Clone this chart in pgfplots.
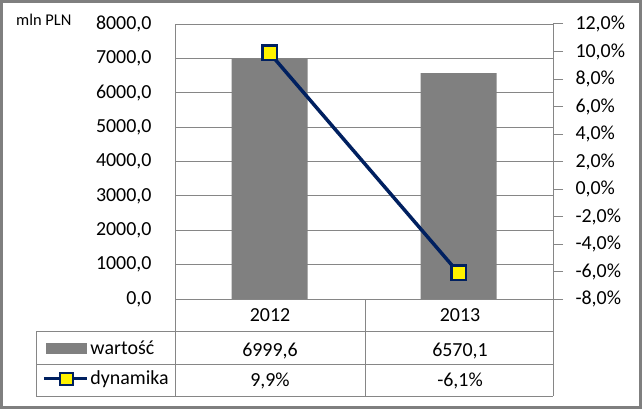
\documentclass[border=0pt]{standalone}
\usepackage{pgfplots}
\pgfplotsset{compat=1.18}
\usepackage{fontspec}
\setmainfont{Carlito}
\definecolor{bargray}{HTML}{808080}
\definecolor{linegray}{HTML}{868686}
\definecolor{navyline}{HTML}{002060}
\definecolor{framegray}{HTML}{7F7F7F}
\pgfplotsset{/pgf/number format/assume math mode=true}
\newcommand{\bigfont}{\fontsize{20}{23}\selectfont}
\begin{document}
\begin{tikzpicture}[x=1bp,y=1bp]
\useasboundingbox (0,0) rectangle (642,409);
\fill[white] (0,0) rectangle (642,409);
\begin{axis}[
  at={(175bp,110bp)}, anchor=south west, scale only axis,
  width=378bp, height=275bp,
  xmin=-0.5, xmax=1.5, ymin=0, ymax=8000,
  ytick={0,1000,...,8000}, xtick=\empty,
  axis line style={linegray, line width=1bp},
  ymajorgrids, grid style={linegray, line width=1bp},
  major tick length=0pt,
  tick label style={font=\bigfont},
  yticklabel={\pgfmathprintnumber[fixed,fixed zerofill,precision=1,use comma,1000 sep={}]{\tick}},
  yticklabel style={xshift=-20bp},
  ybar, bar width=76bp,
]
\addplot[fill=bargray, draw=none] coordinates {(0,6999.6) (1,6570.1)};
\end{axis}
\begin{axis}[
  at={(175bp,110bp)}, anchor=south west, scale only axis,
  width=378bp, height=275bp,
  xmin=-0.5, xmax=1.5, ymin=-8, ymax=12,
  ytick={-8,-6,...,12},
  axis y line*=right, axis x line=none,
  axis line style={linegray, line width=1bp},
  tick align=outside, major tick length=10bp,
  tick style={linegray, line width=1bp},
  tick label style={font=\bigfont},
  yticklabel={\pgfmathprintnumber[fixed,fixed zerofill,precision=1,use comma]{\tick}\%},
  yticklabel style={xshift=9bp},
  legend style={at={(axis description cs:-0.359,-0.2345)}, anchor=west,
    draw=none, fill=none, font=\bigfont, row sep=11bp, legend cell align=left},
]
\addlegendimage{legend image code/.code={\fill[bargray] (0bp,-5bp) rectangle (40bp,5bp);}}
\addlegendentry{wartość}
\addplot[navyline, line width=3.5bp, mark=square*, mark size=7.25bp,
  mark options={fill=yellow, draw=navyline, line width=2.5bp, solid},
  legend image code/.code={\draw[navyline, line width=3bp] (-2bp,0bp) -- (41bp,0bp);
     \draw[fill=yellow, draw=navyline, line width=2bp] (14bp,-6bp) rectangle (27bp,6bp);}]
  coordinates {(0,9.9) (1,-6.1)};
\addlegendentry{dynamika}
\end{axis}
% data table grid
\begin{scope}[linegray, line width=1bp]
\draw (175,110) -- (563,110);
\draw (36,78) -- (553,78);
\draw (36,45) -- (553,45);
\draw (36,13) -- (553,13);
\draw (36,78) -- (36,13);
\draw (175,110) -- (175,13);
\draw (365,110) -- (365,13);
\draw (553,110) -- (553,13);
\end{scope}
\node[anchor=base, font=\bigfont, inner sep=0] at (270,87.3) {2012};
\node[anchor=base, font=\bigfont, inner sep=0] at (460,87.3) {2013};
\node[anchor=base, font=\bigfont, inner sep=0] at (270,53) {6999,6};
\node[anchor=base, font=\bigfont, inner sep=0] at (460,53) {6570,1};
\node[anchor=base, font=\bigfont, inner sep=0] at (270,23) {9,9\%};
\node[anchor=base, font=\bigfont, inner sep=0] at (460,23) {-6,1\%};
\node[anchor=west, font=\fontsize{16.5}{19}\selectfont, inner sep=0] at (16,389.5) {mln PLN};
\draw[framegray, line width=3bp] (1.5,1.5) rectangle (640.5,407.5);
\end{tikzpicture}
\end{document}
